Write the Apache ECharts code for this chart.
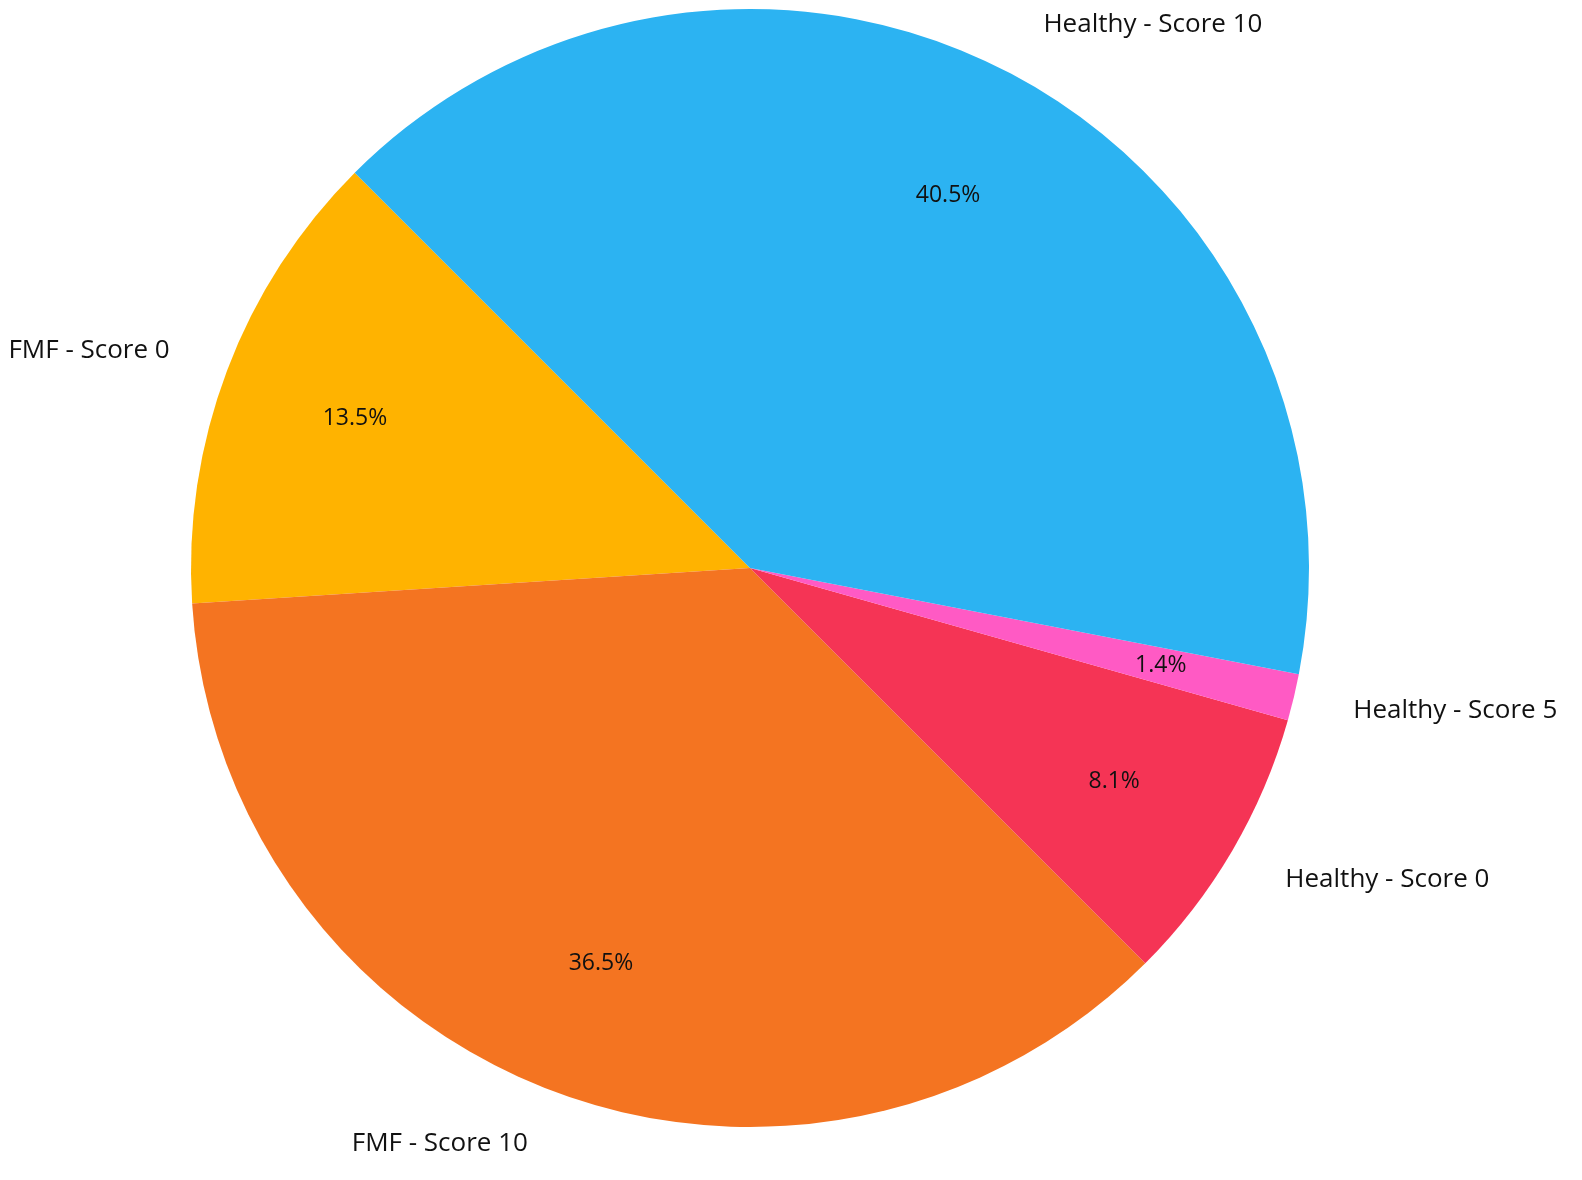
<!DOCTYPE html>
<html lang="en">
<head>
    <meta charset="UTF-8">
    <title>Pie</title>
    <script src="https://cdn.jsdelivr.net/npm/echarts@6/dist/echarts.min.js"></script>
    <style>
        html, body { margin: 0; padding: 0; background: #fff; overflow: hidden; }
        #chart { width: 100vw; height: 100vh; }
    </style>
</head>
<body>
    <div id="chart"></div>
    <script>
        // 数据
        var categories = ['FMF - Score 0', 'FMF - Score 10', 'Healthy - Score 0', 'Healthy - Score 5', 'Healthy - Score 10'];
        var counts = [10, 27, 6, 1, 30];
        var colors = ['#FFB300', '#F47421', '#F53455', '#FF5AC4', '#2CB3F2'];

        var R = 559;
        var center = [750, 568];
        var font = 'Open Sans';

        var pieData = categories.map(function(name, i) {
            return { name: name, value: counts[i], itemStyle: { color: colors[i] } };
        });

        var chart = echarts.init(document.getElementById('chart'));
        chart.setOption({
            animation: false,
            series: [{
                // 外部标签
                type: 'pie',
                center: center,
                radius: [0, R],
                startAngle: 135,
                clockwise: false,
                avoidLabelOverlap: false,
                data: pieData,
                label: {
                    show: true,
                    position: 'outside',
                    fontFamily: font,
                    fontSize: 26,
                    color: '#111'
                },
                labelLine: { show: false, length: R * 0.1, length2: 0 },
                emphasis: { disabled: true }
            }, {
                // 百分比标签, 位于 0.75R
                type: 'pie',
                center: center,
                radius: [R * 0.5, R],
                startAngle: 135,
                clockwise: false,
                silent: true,
                data: pieData.map(function(d) {
                    return { name: d.name, value: d.value, itemStyle: { color: 'rgba(0,0,0,0)' } };
                }),
                label: {
                    show: true,
                    position: 'inside',
                    fontFamily: font,
                    fontSize: 23,
                    color: '#111',
                    formatter: function(p) { return p.percent.toFixed(1) + '%'; }
                },
                labelLine: { show: false }
            }]
        });
    </script>
</body>
</html>
